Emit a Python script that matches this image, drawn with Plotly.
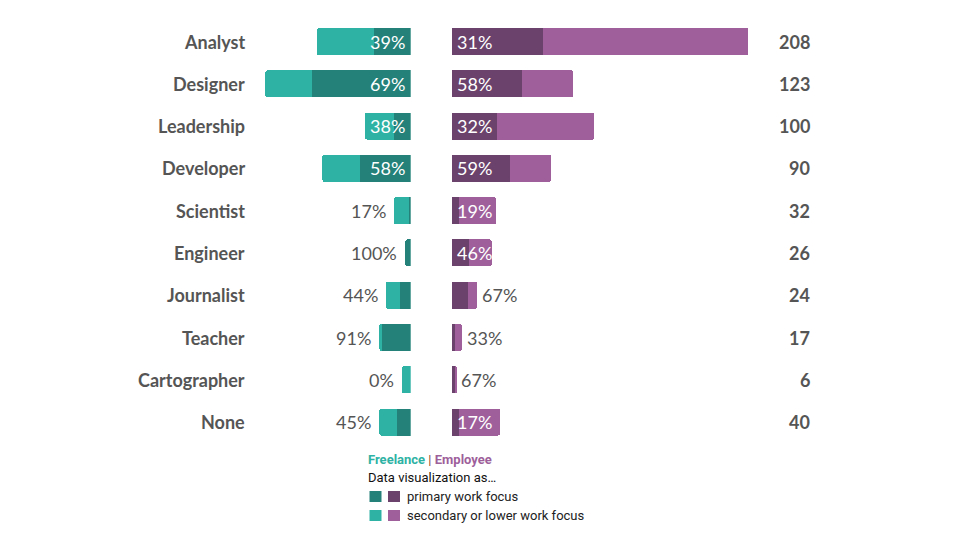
import plotly.graph_objects as go

# Data
roles = ["Analyst", "Designer", "Leadership", "Developer", "Scientist",
         "Engineer", "Journalist", "Teacher", "Cartographer", "None"]
totals = [208, 123, 100, 90, 32, 26, 24, 17, 6, 40]

# freelance respondents: primary / secondary work focus
free_primary = [19.3, 52.1, 8.6, 26.8, 1.0, 2.8, 5.8, 14.9, 0.0, 7.4]
free_secondary = [30.0, 24.4, 15.4, 19.7, 7.8, 0.0, 7.4, 1.6, 4.6, 9.1]
free_pct = ["39%", "69%", "38%", "58%", "17%", "100%", "44%", "91%", "0%", "45%"]

# employee respondents: primary / secondary work focus
emp_primary = [48.1, 37.0, 23.7, 30.7, 3.9, 9.1, 8.6, 1.7, 1.6, 3.8]
emp_secondary = [107.9, 26.8, 51.1, 21.4, 19.3, 11.8, 4.7, 3.4, 0.7, 21.4]
emp_pct = ["31%", "58%", "32%", "59%", "19%", "46%", "67%", "33%", "67%", "17%"]

TEAL_DARK = "#238179"
TEAL = "#2EB2A4"
PURPLE_DARK = "#6B426C"
PURPLE = "#9E5F9B"
GREY = "#555555"

W, H = 960, 540
OFF = 8  # page margin around the plot
px = lambda v: (v - OFF) / W
py = lambda v: 1 - (v - OFF) / H

fig = go.Figure()

bar_w = 0.64
for xs, col, ax in [(free_primary, TEAL_DARK, "x"), (free_secondary, TEAL, "x"),
                    (emp_primary, PURPLE_DARK, "x2"), (emp_secondary, PURPLE, "x2")]:
    fig.add_trace(go.Bar(y=roles, x=xs, orientation="h", width=bar_w,
                         marker=dict(color=col, line=dict(width=0)),
                         xaxis=ax, yaxis="y"))

annotations = []
pct_font = dict(family="Lato", size=18, weight=400)
lab_font = dict(family="Lato", size=18, color=GREY, weight="bold")
for i, role in enumerate(roles):
    # category name
    annotations.append(dict(xref="paper", yref="y", x=px(247), y=role, text=role,
                            xanchor="right", showarrow=False, font=lab_font))
    # total
    annotations.append(dict(xref="paper", yref="y", x=px(812), y=role, text=str(totals[i]),
                            xanchor="right", showarrow=False, font=lab_font))
    # freelance label
    ft = free_primary[i] + free_secondary[i]
    if ft > 18:
        annotations.append(dict(xref="x", yref="y", x=0, y=role, text=free_pct[i],
                                xanchor="right", xshift=-4, showarrow=False,
                                font=dict(pct_font, color="white")))
    else:
        annotations.append(dict(xref="x", yref="y", x=ft, y=role, text=free_pct[i],
                                xanchor="right", xshift=-6, showarrow=False,
                                font=dict(pct_font, color=GREY)))
    # employee label
    et = emp_primary[i] + emp_secondary[i]
    if et > 18:
        annotations.append(dict(xref="x2", yref="y", x=0, y=role, text=emp_pct[i],
                                xanchor="left", xshift=3, showarrow=False,
                                font=dict(pct_font, color="white")))
    else:
        annotations.append(dict(xref="x2", yref="y", x=et, y=role, text=emp_pct[i],
                                xanchor="left", xshift=3, showarrow=False,
                                font=dict(pct_font, color=GREY)))

# legend block
annotations.append(dict(xref="paper", yref="paper", x=px(366), y=py(459),
                        xanchor="left", yanchor="middle", showarrow=False,
                        text=f"<span style='color:{TEAL}'><b>Freelance</b></span>"
                             f"<span style='color:#8a4a2a'> | </span>"
                             f"<span style='color:{PURPLE}'><b>Employee</b></span>",
                        font=dict(family="Roboto", size=13)))
annotations.append(dict(xref="paper", yref="paper", x=px(366), y=py(477),
                        xanchor="left", yanchor="middle", showarrow=False,
                        text="Data visualization as…",
                        font=dict(family="Roboto", size=13, color="#111111")))
annotations.append(dict(xref="paper", yref="paper", x=px(405), y=py(496),
                        xanchor="left", yanchor="middle", showarrow=False,
                        text="primary work focus",
                        font=dict(family="Roboto", size=13, color="#222222")))
annotations.append(dict(xref="paper", yref="paper", x=px(405), y=py(515),
                        xanchor="left", yanchor="middle", showarrow=False,
                        text="secondary or lower work focus",
                        font=dict(family="Roboto", size=13, color="#222222")))

shapes = []
for (x0, yc, col) in [(369.5, 496.5, TEAL_DARK), (388, 496.5, PURPLE_DARK),
                      (369.5, 515.5, TEAL), (388, 515.5, PURPLE)]:
    shapes.append(dict(type="rect", xref="paper", yref="paper",
                       x0=px(x0), x1=px(x0 + 12), y0=py(yc - 5.5), y1=py(yc + 5.5),
                       fillcolor=col, line_width=0))

fig.update_layout(
    width=W, height=H,
    margin=dict(l=0, r=0, t=0, b=0),
    paper_bgcolor="white", plot_bgcolor="white",
    barmode="stack", barcornerradius=2,
    showlegend=False,
    xaxis=dict(domain=[px(250), px(410.7)], range=[160.7 / 1.9, 0],
               visible=False, fixedrange=True),
    xaxis2=dict(domain=[px(452), px(760)], range=[0, 308 / 1.9],
                visible=False, fixedrange=True),
    yaxis=dict(type="category", categoryarray=roles, range=[11.98, -0.795],
               visible=False, fixedrange=True, anchor="x"),
    annotations=annotations,
    shapes=shapes,
)

fig.write_html("out.html")
